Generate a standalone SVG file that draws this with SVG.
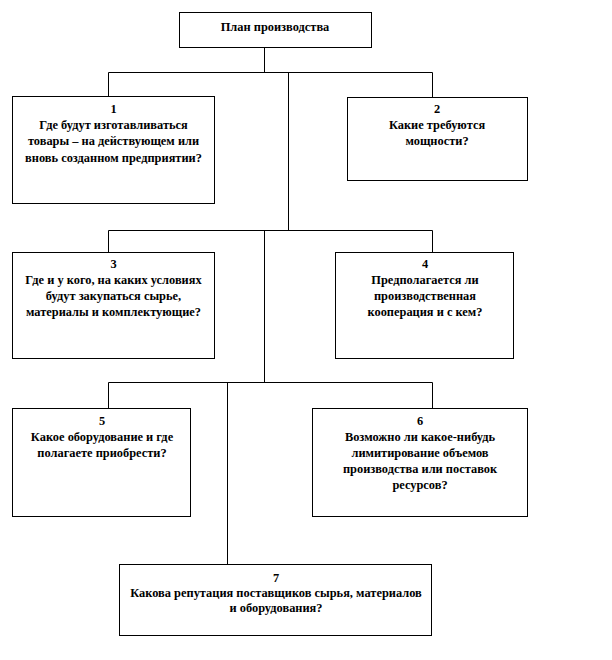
<svg xmlns="http://www.w3.org/2000/svg" width="612" height="660" viewBox="0 0 612 660">
<style>
.box{fill:#fff;stroke:#000;stroke-width:1}
.t{font-family:"Liberation Serif","Times New Roman",serif;font-weight:bold;font-size:12.4px;text-anchor:middle;fill:#000}
.c{fill:none;stroke:#000;stroke-width:1}
</style>
<rect width="612" height="660" fill="#fff"/>
<g id="connectors" class="c">
<path d="M264.5,48 V72.5"/>
<path d="M108.5,72.5 H432.5"/>
<path d="M108.5,72.5 V96"/>
<path d="M432.5,72.5 V97"/>
<path d="M288.5,72.5 V230.5"/>
<path d="M108.5,230.5 H432.5"/>
<path d="M108.5,230.5 V252"/>
<path d="M432.5,230.5 V252"/>
<path d="M264.5,230.5 V382.5"/>
<path d="M108.5,382.5 H432.5"/>
<path d="M108.5,382.5 V408"/>
<path d="M432.5,382.5 V408"/>
<path d="M227.5,382.5 V564"/>
</g>
<g id="title">
<rect class="box" x="179.5" y="12.5" width="192" height="35"/>
<text class="t" x="275" y="31">План производства</text>
</g>
<g id="n1">
<rect class="box" x="12.5" y="96.5" width="202" height="107"/>
<text class="t" x="113.5" y="113">1</text>
<text class="t" x="113.5" y="129">Где будут изготавливаться</text>
<text class="t" x="113.5" y="145">товары – на действующем или</text>
<text class="t" x="113.5" y="162">вновь созданном предприятии?</text>
</g>
<g id="n2">
<rect class="box" x="347.5" y="97.5" width="180" height="83"/>
<text class="t" x="437" y="113">2</text>
<text class="t" x="437" y="129">Какие требуются</text>
<text class="t" x="437" y="145">мощности?</text>
</g>
<g id="n3">
<rect class="box" x="12.5" y="252.5" width="202" height="106"/>
<text class="t" x="113.5" y="268">3</text>
<text class="t" x="113.5" y="284">Где и у кого, на каких  условиях</text>
<text class="t" x="113.5" y="300">будут закупаться сырье,</text>
<text class="t" x="113.5" y="316">материалы и комплектующие?</text>
</g>
<g id="n4">
<rect class="box" x="335.5" y="252.5" width="178" height="106"/>
<text class="t" x="425" y="268">4</text>
<text class="t" x="425" y="284">Предполагается ли</text>
<text class="t" x="425" y="300">производственная</text>
<text class="t" x="425" y="316">кооперация и с кем?</text>
</g>
<g id="n5">
<rect class="box" x="12.5" y="408.5" width="178" height="108"/>
<text class="t" x="102" y="425">5</text>
<text class="t" x="102" y="441">Какое оборудование и где</text>
<text class="t" x="102" y="457">полагаете  приобрести?</text>
</g>
<g id="n6">
<rect class="box" x="312.5" y="408.5" width="215" height="108"/>
<text class="t" x="420" y="425">6</text>
<text class="t" x="420" y="441">Возможно ли какое-нибудь</text>
<text class="t" x="420" y="457">лимитирование объемов</text>
<text class="t" x="420" y="473">производства или поставок</text>
<text class="t" x="420" y="489">ресурсов?</text>
</g>
<g id="n7">
<rect class="box" x="119.5" y="564.5" width="312" height="71"/>
<text class="t" x="276" y="582">7</text>
<text class="t" x="276" y="597">Какова  репутация поставщиков  сырья, материалов</text>
<text class="t" x="276" y="612">и оборудования?</text>
</g>
</svg>
